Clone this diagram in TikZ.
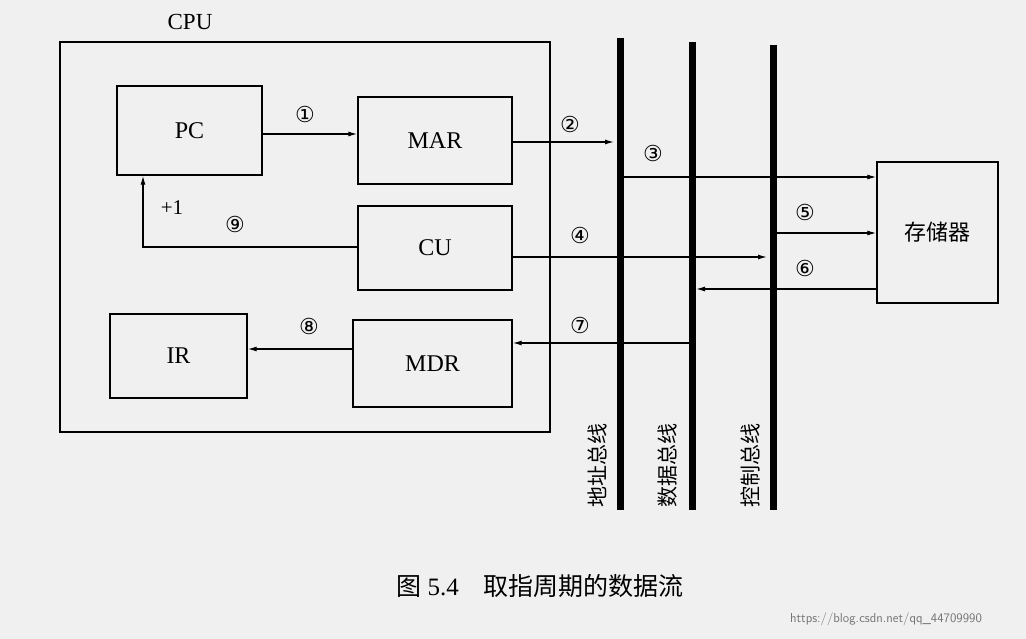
\documentclass[tikz,border=0pt]{standalone}
\usepackage{fontspec}
\usetikzlibrary{arrows.meta}
\setmainfont{Liberation Serif}
\newfontfamily\cjk{Noto Sans CJK SC}
\newfontfamily\dv{DejaVu Sans}
\begin{document}
\begin{tikzpicture}[x=1pt,y=-1pt,
  blk/.style={draw,line width=1.4pt,font=\fontsize{24}{28}\selectfont},
  bus/.style={line width=7pt},
  arr/.style={-{Latex[length=9pt,width=5pt]},line width=1.2pt},
  num/.style={font=\dv\fontsize{22}{24}\selectfont},
  buslbl/.style={rotate=90,font=\cjk\fontsize{21}{24}\selectfont}]
\useasboundingbox[fill=black!6] (0,0) rectangle (1026,639);
\node[draw,line width=1.4pt,minimum width=490pt,minimum height=390pt] (cpu) at (305,237) {};
\node[font=\fontsize{23}{26}\selectfont] (cpulbl) at (190,22) {CPU};
\node[blk,minimum width=145pt,minimum height=89pt] (pc) at (189.5,130.5) {PC};
\node[blk,minimum width=154pt,minimum height=87pt] (mar) at (435,140.5) {MAR};
\node[blk,minimum width=154pt,minimum height=84pt] (cu) at (435,248) {CU};
\node[blk,minimum width=137pt,minimum height=84pt] (ir) at (178.5,356) {IR};
\node[blk,minimum width=159pt,minimum height=87pt] (mdr) at (432.5,363.5) {MDR};
\node[blk,minimum width=121pt,minimum height=141pt,font=\cjk\fontsize{22}{26}\selectfont] (mem) at (937.5,232.5) {存储器};
\coordinate (a1) at (620,38); \coordinate (a2) at (620,510);
\coordinate (d1) at (692,42); \coordinate (d2) at (692,510);
\coordinate (c1) at (773,45); \coordinate (c2) at (773,510);
\draw[bus] (a1) -- (a2); \draw[bus] (d1) -- (d2); \draw[bus] (c1) -- (c2);
\node[buslbl] (la) at (597,465) {地址总线};
\node[buslbl] (ld) at (668,465) {数据总线};
\node[buslbl] (lc) at (750,465) {控制总线};
\draw[arr] (pc.east |- 0,134) -- (mar.west |- 0,134);
\node[num] (n1) at (305,114) {①};
\coordinate (t2) at (614,142);
\draw[arr] (mar.east |- 0,142) -- (t2);
\node[num] (n2) at (570,124) {②};
\coordinate (s3) at (624,177);
\draw[arr] (s3) -- (mem.west |- 0,177);
\node[num] (n3) at (653,153) {③};
\coordinate (t4) at (767,257);
\draw[arr] (cu.east |- 0,257) -- (t4);
\node[num] (n4) at (580,235) {④};
\coordinate (s5) at (777,233);
\draw[arr] (s5) -- (mem.west |- 0,233);
\node[num] (n5) at (805,212) {⑤};
\coordinate (t6) at (696,289);
\draw[arr] (mem.west |- 0,289) -- (t6);
\node[num] (n6) at (805,268) {⑥};
\coordinate (s7) at (689,343);
\draw[arr] (s7) -- (mdr.east |- 0,343);
\node[num] (n7) at (580,325) {⑦};
\draw[arr] (mdr.west |- 0,349) -- (ir.east |- 0,349);
\node[num] (n8) at (309,326) {⑧};
\draw[arr] (cu.west |- 0,247) -- (143,247) -- (pc.south -| 143,0);
\node[num] (n9) at (235,224) {⑨};
\node[font=\fontsize{21}{24}\selectfont] (p1) at (172,208) {+1};
\node[font=\fontsize{25}{30}\selectfont] (cap) at (540,586) {{\cjk 图} 5.4\quad{\cjk 取指周期的数据流}};
\node[font=\sffamily\fontsize{13}{15}\selectfont,text=black!55] (wm) at (886,619) {https://blog.csdn.net/qq\_44709990};
\end{tikzpicture}
\end{document}
